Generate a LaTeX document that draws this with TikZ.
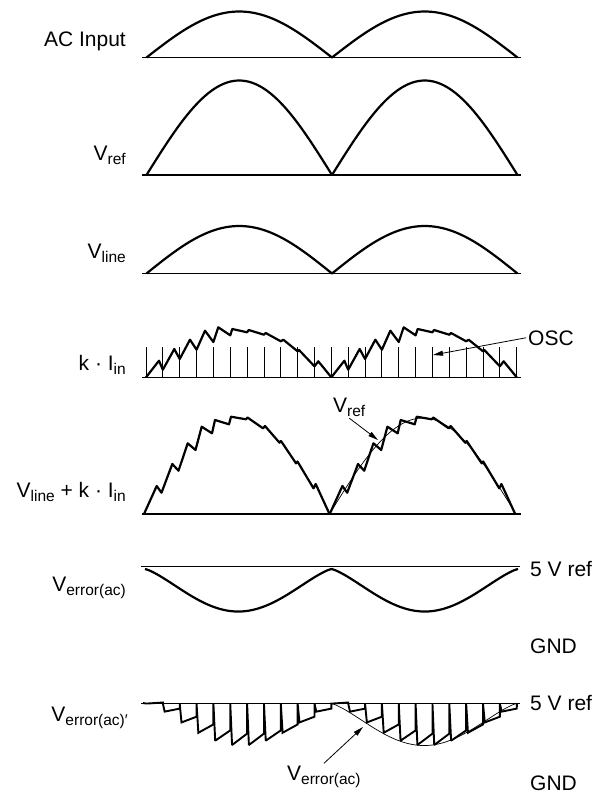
\documentclass[tikz,border=0pt]{standalone}
\usepackage{fontspec}
\setmainfont{Liberation Sans}
\usetikzlibrary{arrows.meta}
\newcommand{\sbs}[1]{\raisebox{-4.8pt}{\fontsize{15.5}{17}\selectfont #1}}
\begin{document}
\begin{tikzpicture}[x=1pt,y=-1pt,
  wave/.style={line width=2.2pt, line join=round},
  wavej/.style={line width=1.9pt, line join=miter, miter limit=2},
  base/.style={line width=1.1pt},
  tickln/.style={line width=0.9pt},
  thinc/.style={line width=0.7pt},
  lab/.style={font=\fontsize{21}{25}\selectfont, inner sep=0pt},
  arr/.style={line width=0.8pt, -{Triangle[length=10pt,width=5pt]}}]
\useasboundingbox (0,0) rectangle (602,793);

% ---------- Panel 1: AC Input
\node[lab, anchor=base east] (lac) at (126,46) {AC Input};
\draw[base] (142,57.5) -- (521,57.5);
\draw[wave] plot[domain=0:360, samples=121] ({146.5+\x/360*371},{57.5-46*abs(sin(\x))});

% ---------- Panel 2: Vref
\node[lab, anchor=base east] (lvref) at (126,160) {V\sbs{ref}};
\draw[base] (142,175) -- (521,175);
\draw[wave] plot[domain=0:360, samples=121] ({146.5+\x/360*371},{175-94.5*abs(sin(\x))});

% ---------- Panel 3: Vline
\node[lab, anchor=base east] (lvline) at (126,258) {V\sbs{line}};
\draw[base] (142,273.5) -- (521,273.5);
\draw[wave] plot[domain=0:360, samples=121] ({146.5+\x/360*371},{273.5-47.5*abs(sin(\x))});

% ---------- Panel 4: k . Iin
\node[lab, anchor=base east] (lkiin) at (126,370) {k · I\sbs{in}};
\draw[base] (142,377.3) -- (521,377.3);
\foreach \k in {0,...,22} \draw[tickln] ({146+16.85*\k},377.3) -- ++(0,-30.5);
\foreach \s in {0,185.35} {
\begin{scope}[xshift=\s]
\draw[wave] (146,377.3) -- (159,360.7) -- (162.85,369.7) -- (174.3,349) -- (179.7,359) -- (190,339.7) -- (196.55,349.7) -- (205,330.7) -- (213.4,342) -- (218.3,327.3) -- (230.25,335.3) -- (232.3,329) -- (247.1,332.3) -- (248.7,330) -- (263.95,334.7) -- (265.7,333) -- (280.8,341.3) -- (283.3,339.7) -- (297.65,351.3) -- (299,350) -- (314.5,366.3) -- (318.3,361.3) -- (331.35,377.3);
\end{scope}}
\node[lab, anchor=base west, inner sep=2pt] (losc) at (526,345) {OSC};
\coordinate (osctip) at (433,355);
\draw[arr] (losc.west) -- (osctip);

% ---------- Panel 5: Vline + k . Iin
\node[lab, anchor=base east] (lsum) at (126,497) {V\sbs{line} + k · I\sbs{in}};
\draw[base] (142,514) -- (521,514);
\foreach \s in {0,185.7} {
\begin{scope}[xshift=\s]
\draw[wave] (144,514) -- (156.7,486) -- (161.5,492.7) -- (172.3,464) -- (178.5,470.7) -- (187.7,443.3) -- (195.5,450) -- (201.7,426.7) -- (212,433.3) -- (215,420) -- (229,424.3) -- (231,416.7) -- (246,419.3) -- (247.5,417.5) -- (263,428.3) -- (265,426) -- (279.5,442.7) -- (281,441) -- (296,463.3) -- (297.5,461.5) -- (313.5,488.3) -- (315.7,484) -- (329.5,514);
\end{scope}}
\draw[thinc] plot[domain=0:180, samples=50] ({329.5+\x/180*186.5},{514-96*sin(\x)});
\node[lab, anchor=base west, inner sep=1pt] (lvref2) at (332,412) {V\sbs{ref}};
\coordinate (vreftip) at (378,440);
\draw[arr] (lvref2.south) -- (vreftip);

% ---------- Panel 6: Verror(ac)
\node[lab, anchor=base east] (lerr) at (126,591) {V\sbs{error(ac)}};
\draw[thinc, line width=1pt] (141,566) -- (520,566);
\draw[wave] plot[domain=0:360, samples=121] ({145+\x/360*373},{569+42.5*pow(abs(sin(\x))+0.0005,1.3)});
\node[lab, anchor=base west] (l5v1) at (530,576) {5 V ref};
\node[lab, anchor=base west] (lgnd1) at (530,653) {GND};

% ---------- Panel 7: Verror(ac)'
\node[lab, anchor=base east] (lerrp) at (128,721) {V\sbs{error(ac)′}};
\draw[thinc, line width=1pt] (141,703) -- (520,703);
\draw[wavej] (143,703) \foreach \k [evaluate=\k as \d using {42*pow(abs(sin(180*\k/11))+0.001,1.3)}] in {0,...,21} { -- ({146+16.85*\k},703.5) -- ({147.8+16.85*\k},{703.5+\d}) -- ({146+16.85*(\k+1)},{702.5+0.75*\d}) } -- (517,703);
\draw[thinc] plot[domain=180:360, samples=70] ({146+\x/180*185.35},{703.5+42*pow(abs(sin(\x))+0.0005,1.3)});
\node[lab, anchor=base west] (l5v2) at (530,710) {5 V ref};
\node[lab, anchor=base west] (lgnd2) at (530,790) {GND};
\node[lab, anchor=base west, inner sep=2pt] (lerrb) at (285,780) {V\sbs{error(ac)}};
\coordinate (errtip) at (363,727);
\draw[arr] (lerrb.north) -- (errtip);
\end{tikzpicture}
\end{document}
